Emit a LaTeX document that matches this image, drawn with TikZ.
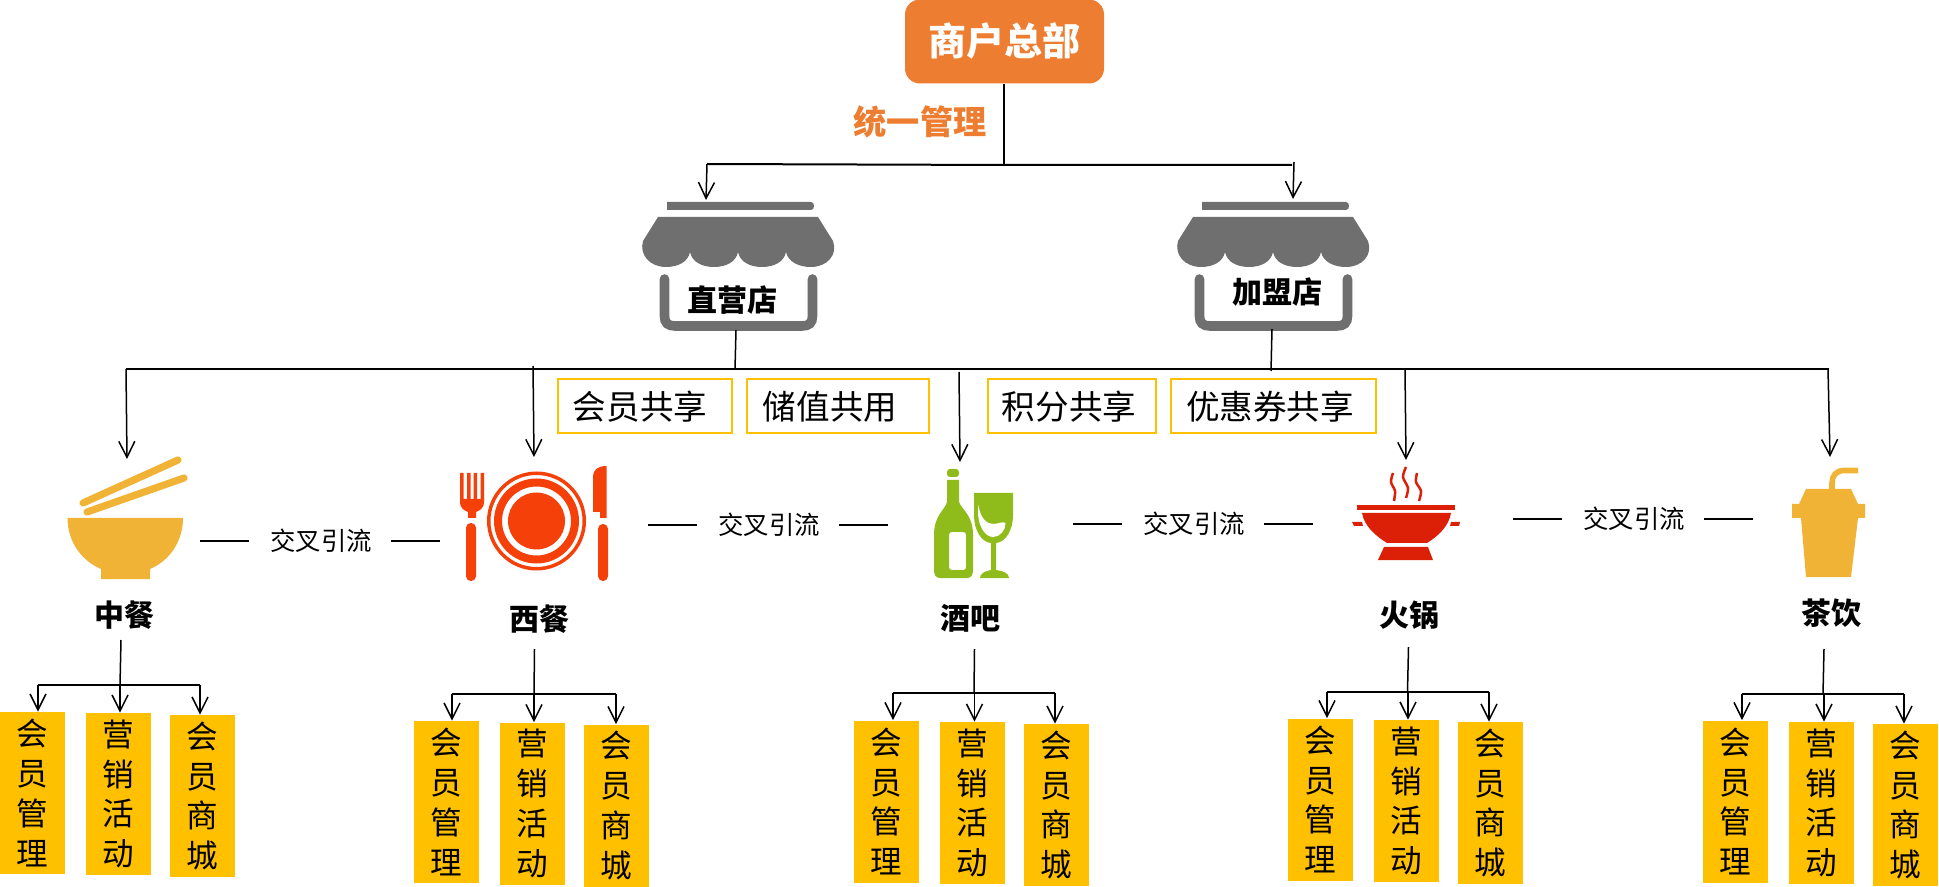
\documentclass[tikz,border=0pt]{standalone}
\usepackage{fontspec}
\usetikzlibrary{arrows.meta}
\setmainfont{Noto Sans CJK SC}
\definecolor{hqorange}{HTML}{ED7D31}
\definecolor{tagyellow}{HTML}{FFC000}
\definecolor{shopgrey}{HTML}{6F6F6F}
\definecolor{amber}{HTML}{F0B336}
\definecolor{platered}{HTML}{F6400A}
\definecolor{winegreen}{HTML}{8FBC1A}
\definecolor{potred}{HTML}{DC2008}
\newcommand{\px}[2]{\fontsize{#1}{#2}\selectfont}
\tikzset{
  wire/.style={line width=1pt,black},
  thin wire/.style={line width=.75pt,black},
  arrowed/.style={line width=.75pt,black,-{Straight Barb[length=8pt,width=8pt,line width=.75pt]}},
  hq/.style={fill=hqorange,rounded corners=7.5pt,minimum width=99.5pt,minimum height=42pt,inner sep=0pt,text=white,font=\px{19}{22}\bfseries},
  mgmt/.style={inner sep=0pt,text=hqorange,font=\px{16.6}{20}\bfseries},
  shoplabel/.style={inner sep=0pt,font=\px{15}{18}\bfseries},
  sharebox/.style={draw=tagyellow,line width=1.1pt,inner sep=0pt,minimum height=27pt},
  sharetext/.style={inner sep=0pt,font=\px{16.8}{20}},
  crosslabel/.style={inner sep=0pt,font=\px{12.7}{16}},
  catlabel/.style={inner sep=0pt,font=\px{15}{18}\bfseries},
  tag/.style={fill=tagyellow,inner sep=0pt,minimum width=32.5pt,minimum height=81pt,align=center,font=\px{15.8}{19.85}},
}
% Shopfront glyph, drawn at the position of the first shop
\newcommand{\shopfront}{%
  \fill[shopgrey] (667,202) -- (811,202) .. controls (815,202) and (815,210) .. (811,210) -- (667,210) -- cycle;
  \fill[shopgrey] (658,217) -- (818,217) -- (833,241)
    .. controls (838,255) and (827,267) .. (811,267) .. controls (799,267) and (788,262) .. (786,252)
    .. controls (784,262) and (774,267) .. (762,267) .. controls (750,267) and (740,262) .. (738,252)
    .. controls (736,262) and (726,267) .. (714,267) .. controls (702,267) and (692,262) .. (690,252)
    .. controls (688,262) and (678,267) .. (666,267) .. controls (650,267) and (639,255) .. (643,241) -- cycle;
  \draw[shopgrey,line width=4.8pt,line cap=round] (664.5,279) -- (664.5,316) .. controls (664.5,323) and (668,326) .. (675,326)
    -- (802,326) .. controls (809,326) and (812.5,323) .. (812.5,316) -- (812.5,279);
}
\begin{document}
\begin{tikzpicture}[x=.5pt,y=-.5pt]
\useasboundingbox (0,0) rectangle (1939,887);

% Headquarters and the two kinds of shop
\node[hq] (hq) at (1004.5,41.5) {商户总部};
\node[mgmt] (mgmt) at (920,122) {统一管理};
\shopfront
\begin{scope}[shift={(535,0)}]\shopfront\end{scope}
\node[shoplabel] (direct) at (732.5,300) {直营店};
\node[shoplabel] (franchise) at (1277,292) {加盟店};

\coordinate (hqdrop) at (1004,165);
\coordinate (hqleft) at (707,164);
\coordinate (hqright) at (1292,165);
\coordinate (hqrighttop) at (1294,162);
\coordinate (directtop) at (706,200);
\coordinate (franchisetop) at (1293,199);
\coordinate (directfoot) at (736,330);
\coordinate (franchisefoot) at (1272,329);
\draw[wire] (hq.south -| hqdrop) -- (hqdrop);
\draw[wire] (hqleft) -- (hqdrop) -- (hqright);
\draw[arrowed] (hqleft) -- (directtop);
\draw[arrowed] (hqrighttop) -- (franchisetop);

% Bus shared by the five catering formats
\coordinate (busl) at (126,369);
\coordinate (busr) at (1829,369);
\coordinate (busdirect) at (735,369);
\coordinate (busfranchise) at (1271,371);
\draw[wire] (busl) -- (busr);
\draw[thin wire] (directfoot) -- (busdirect);
\draw[thin wire] (franchisefoot) -- (busfranchise);

% What the shops have in common
\node[sharebox,minimum width=87pt] (sb1) at (645,406) {};
\node[sharebox,minimum width=91pt] (sb2) at (838,406) {};
\node[sharebox,minimum width=84pt] (sb3) at (1072,406) {};
\node[sharebox,minimum width=102.5pt] (sb4) at (1273.5,406) {};
\node[sharetext] (st1) at (640,407) {会员共享};
\node[sharetext] (st2) at (830,407) {储值共用};
\node[sharetext] (st3) at (1069,407) {积分共享};
\node[sharetext] (st4) at (1270,407) {优惠券共享};

% Bowl and chopsticks
\fill[amber] (67.5,518) -- (183,518) .. controls (183,540) and (171,560) .. (150,569) -- (150,579) -- (101,579) -- (101,569) .. controls (80,560) and (67.5,540) .. (67.5,518) -- cycle;
\draw[amber,line width=3.6pt,line cap=round] (83,503) -- (178,460);
\draw[amber,line width=3.6pt,line cap=round] (87,512) -- (184,478);

% Plate, fork and knife
\fill[platered,even odd rule] (536.5,521) circle [radius=49.5] (536.5,521) circle [radius=46];
\fill[platered,even odd rule] (536.5,521) circle [radius=42.5] (536.5,521) circle [radius=34.5];
\fill[platered] (536.5,521) circle [radius=28.5];
\fill[platered] (460,473) rectangle (463.5,500) (467,473) rectangle (470.5,500) (473.5,473) rectangle (477,500) (480.5,473) rectangle (484,500);
\fill[platered] (460,499) -- (484,499) -- (484,503) .. controls (484,508) and (479,511) .. (476,512) -- (476,518) -- (468,518) -- (468,512) .. controls (465,511) and (460,508) .. (460,503) -- cycle;
\fill[platered,rounded corners=2.4pt] (466,523) rectangle (476,581);
\fill[platered] (606.5,466) -- (606.5,518) -- (600,518) -- (600,512) -- (593,512) -- (593,476) .. controls (593,470) and (598,466) .. (606.5,466) -- cycle;
\fill[platered,rounded corners=2.4pt] (598,524) rectangle (608,581);

% Bottle and wine glass
\fill[winegreen,rounded corners=1.5pt] (947,469) rectangle (959,477);
\fill[winegreen,even odd rule] (947,480) -- (959,480) -- (959,502) .. controls (962,510) and (973,515) .. (973,535) -- (973,570) .. controls (973,575) and (971,578) .. (967,578) -- (940,578) .. controls (936,578) and (934,575) .. (934,570) -- (934,535) .. controls (934,515) and (945,510) .. (947,502) -- cycle
  (952,532) -- (963,532) .. controls (965,532) and (966,533) .. (966,535) -- (966,567) .. controls (966,569) and (965,570) .. (963,570) -- (952,570) .. controls (950,570) and (949,569) .. (949,567) -- (949,535) .. controls (949,533) and (950,532) .. (952,532) -- cycle;
\fill[winegreen] (974,493) -- (1013,493) -- (1013,515) .. controls (1013,530) and (1006,542) .. (996,543) -- (996,570) .. controls (1003,571) and (1009,573) .. (1009,578) -- (980,578) .. controls (980,573) and (986,571) .. (991,570) -- (991,543) .. controls (981,542) and (974,530) .. (974,515) -- cycle;
\fill[white] (978.5,505) .. controls (980,518) and (987,524) .. (993,524) .. controls (998,524) and (1002,521) .. (1005.5,523) .. controls (1006,530) and (1000,537) .. (993,537) .. controls (985,537) and (976,525) .. (978.5,505) -- cycle;

% Hot pot with steam
\draw[potred,line width=1.25pt] plot[smooth] coordinates {(1393,473) (1391,482) (1395,491) (1394,501)};
\draw[potred,line width=1.25pt] plot[smooth] coordinates {(1406,467) (1403,477) (1408,488) (1406,498)};
\draw[potred,line width=1.25pt] plot[smooth] coordinates {(1417,473) (1416,482) (1421,491) (1419,501)};
\fill[potred] (1357,505) rectangle (1455,510);
\fill[potred] (1362,513) -- (1451,513) .. controls (1449,525) and (1440,535) .. (1427,543) -- (1387,543) .. controls (1374,535) and (1364,525) .. (1362,513) -- cycle;
\fill[potred] (1352,522) -- (1362,522) -- (1363,526) -- (1354,526) -- cycle;
\fill[potred] (1451,522) -- (1460,522) -- (1459,526) -- (1450,526) -- cycle;
\fill[potred] (1384,547) -- (1428,547) -- (1433,560) -- (1378,560) -- cycle;

% Takeaway cup with straw
\draw[amber,line width=2.8pt] (1832,490) -- (1832,483) .. controls (1832,476) and (1836,470.5) .. (1844,470.5) -- (1858,470.5);
\fill[amber] (1806,489) -- (1851,489) -- (1858,504) -- (1865,504) -- (1865,518) -- (1858,518) -- (1851,577) -- (1806,577) -- (1801,518) -- (1792,518) -- (1792,504) -- (1799,504) -- cycle;

% Arrows from the bus to each format
\coordinate (bus1) at (126,369);
\coordinate (bus2) at (533,366);
\coordinate (bus3) at (959,372);
\coordinate (bus4) at (1405,369);
\coordinate (bus5) at (1828,369);
\coordinate (icon1) at (127,459);
\coordinate (icon2) at (534,457);
\coordinate (icon3) at (960,462);
\coordinate (icon4) at (1406,460);
\coordinate (icon5) at (1830,457);
\foreach \n in {1,...,5} \draw[arrowed] (bus\n) -- (icon\n);

% Format names
\node[catlabel] (cat1) at (124.5,615) {中餐};
\node[catlabel] (cat2) at (539,619) {西餐};
\node[catlabel] (cat3) at (970,618) {酒吧};
\node[catlabel] (cat4) at (1409.5,615) {火锅};
\node[catlabel] (cat5) at (1831,613) {茶饮};

% Cross-promotion links between neighbouring formats
\node[crosslabel] (cross1) at (321,541) {交叉引流};
\node[crosslabel] (cross2) at (769,525) {交叉引流};
\node[crosslabel] (cross3) at (1194,524) {交叉引流};
\node[crosslabel] (cross4) at (1634,519) {交叉引流};
\foreach \n in {1,...,4} {
  \draw[wire] ([xshift=-10.5pt]cross\n.west) -- ([xshift=-35pt]cross\n.west);
  \draw[wire] ([xshift=9.5pt]cross\n.east) -- ([xshift=34pt]cross\n.east);
}

% Three function tags under each format
\foreach \g/\sx/\sy/\jx/\jy/\xa/\xb/\xc/\bxa/\bxb/\bxc/\bya/\byb/\byc in {
  1/121/640/120/685/38/120/200/32.7/118.5/202.5/793/794/796,
  2/534.5/649/534/694/452/534/616/446.5/532.5/616/802/803.5/805.5,
  3/974.5/649/974/693/893/974.5/1055/886.7/972/1056.5/801.5/803/805,
  4/1408.5/647/1407.5/692/1327/1408/1489/1320.7/1406/1490/799.5/801/803,
  5/1824/649/1823/694/1742/1824/1904/1735.5/1821.5/1905.5/801.5/803/805}{
  \node[tag] (t\g a) at (\bxa,\bya) {会\\员\\管\\理};
  \node[tag] (t\g b) at (\bxb,\byb) {营\\销\\活\\动};
  \node[tag] (t\g c) at (\bxc,\byc) {会\\员\\商\\城};
  \coordinate (stem\g) at (\sx,\sy);
  \coordinate (joint\g) at (\jx,\jy);
  \coordinate (left\g) at (\xa,\jy);
  \coordinate (mid\g) at (\xb,\jy);
  \coordinate (right\g) at (\xc,\jy);
  \draw[thin wire] (stem\g) -- (joint\g);
  \draw[wire] (left\g) -- (right\g);
  \draw[arrowed] (left\g) -- (left\g |- t\g a.north);
  \draw[arrowed] (mid\g) -- (mid\g |- t\g b.north);
  \draw[arrowed] (right\g) -- (right\g |- t\g c.north);
}
\end{tikzpicture}
\end{document}
